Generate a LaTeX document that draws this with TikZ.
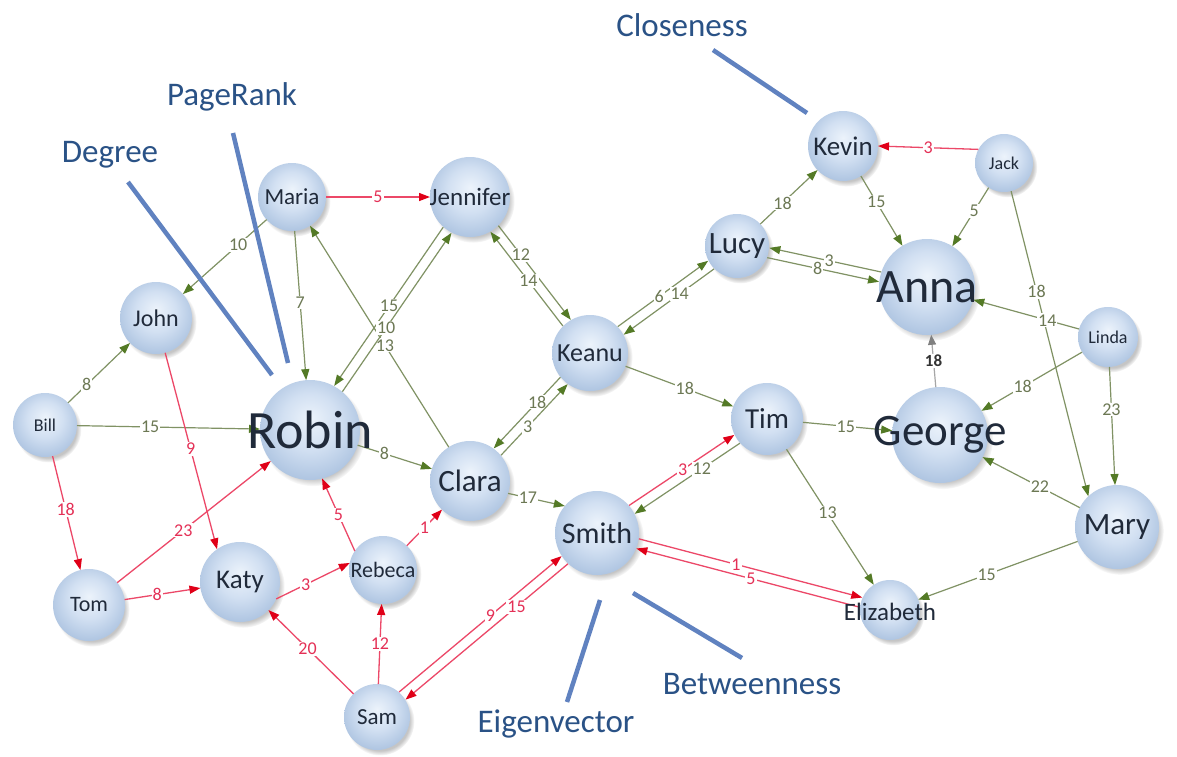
\documentclass[tikz,border=0pt]{standalone}
\usepackage{fontspec}
\setmainfont{Carlito}
\usetikzlibrary{arrows.meta,calc,shadows}
\definecolor{bubIn}{RGB}{236,243,251}
\definecolor{bubMid}{RGB}{210,224,242}
\definecolor{bubOut}{RGB}{176,198,226}
\definecolor{nameC}{RGB}{32,42,58}
\definecolor{gLine}{RGB}{128,146,100}
\definecolor{gArrow}{RGB}{84,122,38}
\definecolor{gLab}{RGB}{108,120,84}
\definecolor{rLine}{RGB}{236,72,104}
\definecolor{rArrow}{RGB}{224,0,24}
\definecolor{rLab}{RGB}{228,48,86}
\definecolor{annLine}{RGB}{96,130,192}
\definecolor{annText}{RGB}{42,82,134}
\pgfdeclareradialshading{bubble}{\pgfpoint{0bp}{6bp}}{color(0bp)=(bubIn); color(14bp)=(bubMid); color(27bp)=(bubOut); color(50bp)=(bubOut)}
\newcommand{\fsz}[1]{\fontsize{#1}{#1}\selectfont}
\newcommand{\bubble}[3]{\node[bub,minimum size=#3pt] (#1) at (#2) {};}
\newcommand{\pedge}[7]{\draw[#1] ($(#2)!5pt!#4:(#3)$) -- node[#6]{#7} ($(#3)!5pt!#5:(#2)$);}
\tikzset{
  bub/.style={circle,inner sep=0pt,outer sep=0pt,shade,shading=bubble,
    circular drop shadow={shadow xshift=3pt,shadow yshift=-4pt,shadow scale=1.04,opacity=.45}},
  nm/.style={text=nameC,inner sep=0pt},
  gE/.style={draw=gLine,line width=1.2pt,-{Triangle[length=11pt,width=8pt,color=gArrow]}},
  rE/.style={draw=rLine,line width=1.3pt,-{Triangle[length=11pt,width=8pt,color=rArrow]}},
  grE/.style={draw=gray!70,line width=1.2pt,-{Triangle[length=10pt,width=8pt,color=gray]}},
  glab/.style={fill=white,inner sep=1pt,text=gLab,font=\fsz{18}},
  rlab/.style={fill=white,inner sep=1pt,text=rLab,font=\fsz{18}},
  dlab/.style={fill=white,inner sep=1pt,text=black!80,font=\bfseries\fsz{17}},
  ann/.style={draw=annLine,line width=4.5pt},
  anntext/.style={text=annText,font=\fsz{33},inner sep=0pt}
}
\begin{document}
\begin{tikzpicture}[x=1pt,y=-1pt]
\fill[white] (0,0) rectangle (1177,756);
\useasboundingbox (0,0) rectangle (1177,756);
% bubbles
\bubble{Bill}{45,425}{64}
\bubble{John}{156,318}{72}
\bubble{Maria}{292,197}{68}
\bubble{Jennifer}{470,197}{80}
\bubble{Robin}{310,430}{100}
\bubble{Tom}{89,605}{72}
\bubble{Katy}{240,582}{80}
\bubble{Rebeca}{383,570}{68}
\bubble{Clara}{470,481}{80}
\bubble{Sam}{377,717}{66}
\bubble{Keanu}{590,353}{76}
\bubble{Smith}{597,533}{84}
\bubble{Lucy}{737,246}{64}
\bubble{Kevin}{843,146}{70}
\bubble{Jack}{1004,163}{58}
\bubble{Anna}{927,287}{96}
\bubble{Linda}{1108,337}{60}
\bubble{Tim}{767,419}{72}
\bubble{George}{940,435}{96}
\bubble{Mary}{1117,527}{84}
\bubble{Elizabeth}{890,610}{60}
% single edges
\draw[rE] (Maria) -- node[rlab,pos=.5]{5} (Jennifer);
\draw[gE] (Maria) -- node[glab,pos=.34]{10} (John);
\draw[gE] (Maria) -- node[glab,pos=.48]{7} (Robin);
\draw[gE] (Bill) -- node[glab,pos=.3]{8} (John);
\draw[gE] (Bill) -- node[glab,pos=.4]{15} (Robin);
\draw[rE] (Bill) -- node[rlab,pos=.47]{18} (Tom);
\draw[rE] (John) -- node[rlab,pos=.49]{9} (Katy.125);
\draw[rE] (Tom) -- node[rlab,pos=.43]{23} (Robin);
\draw[rE] (Tom) -- node[rlab,pos=.43]{8} (Katy);
\draw[rE] (Katy.-25) -- node[rlab,pos=.4]{3} (Rebeca.168);
\draw[rE] (Sam) -- node[rlab,pos=.54]{20} (Katy);
\draw[rE] (Sam) -- node[rlab,pos=.5]{12} (Rebeca);
\draw[rE] (Rebeca.146) -- node[rlab,pos=.5]{5} (Robin.-76);
\draw[rE] (Rebeca) -- node[rlab,pos=.5]{1} (Clara);
\draw[gE] (Robin) -- node[glab,pos=.36]{8} (Clara);
\draw[gE] (Clara) -- node[glab,pos=.46]{13} (Maria);
\draw[gE] (Keanu) -- node[glab,pos=.55]{18} (Tim);
\draw[gE] (Lucy) -- node[glab,pos=.39]{18} (Kevin);
\draw[gE] (Kevin) -- node[glab,pos=.37]{15} (Anna);
\draw[rE] (Jack.152) -- node[rlab,pos=.5]{3} (Kevin.east);
\draw[gE] (Jack) -- node[glab,pos=.4]{5} (Anna);
\draw[gE] (Jack) -- node[glab,pos=.33]{18} (Mary.133);
\draw[gE] (Linda) -- node[glab,pos=.3]{14} (Anna);
\draw[gE] (Linda) -- node[glab,pos=.59]{18} (George);
\draw[gE] (Linda) -- node[glab,pos=.36]{23} (Mary);
\draw[grE] (George) -- node[dlab,pos=.5]{18} (Anna);
\draw[gE] (Tim) -- node[glab,pos=.48]{15} (George);
\draw[gE] (Mary) -- node[glab,pos=.41]{22} (George);
\draw[gE] (Mary) -- node[glab,pos=.57]{15} (Elizabeth);
\draw[gE] (Tim) -- node[glab,pos=.47]{13} (Elizabeth);
\draw[gE] (Clara.-18) -- node[glab,pos=.35]{17} (Smith.140);
% parallel edge pairs
\pedge{gE,shorten <=40pt,shorten >=50pt}{Jennifer}{Robin}{-90}{90}{glab,pos=.48}{15}
\pedge{gE,shorten <=50pt,shorten >=40pt}{Robin}{Jennifer}{-90}{90}{glab,pos=.45}{10}
\pedge{gE,shorten <=40pt,shorten >=38pt}{Jennifer}{Keanu}{90}{-90}{glab,pos=.39}{12}
\pedge{gE,shorten <=38pt,shorten >=40pt}{Keanu}{Jennifer}{90}{-90}{glab,pos=.48}{14}
\pedge{gE,shorten <=38pt,shorten >=40pt}{Keanu}{Clara}{-90}{90}{glab,pos=.41}{18}
\pedge{gE,shorten <=40pt,shorten >=38pt}{Clara}{Keanu}{-90}{90}{glab,pos=.45}{3}
\pedge{gE,shorten <=38pt,shorten >=32pt}{Keanu}{Lucy}{90}{-90}{glab,pos=.49}{6}
\pedge{gE,shorten <=32pt,shorten >=38pt}{Lucy}{Keanu}{90}{-90}{glab,pos=.41}{14}
\pedge{gE,shorten <=48pt,shorten >=32pt}{Anna}{Lucy}{-90}{90}{glab,pos=.52}{3}
\pedge{gE,shorten <=32pt,shorten >=48pt}{Lucy}{Anna}{-90}{90}{glab,pos=.43}{8}
\pedge{rE,shorten <=42pt,shorten >=36pt}{Smith}{Tim}{90}{-90}{rlab,pos=.52}{3}
\pedge{gE,shorten <=36pt,shorten >=42pt}{Tim}{Smith}{90}{-90}{glab,pos=.4}{12}
\pedge{rE,shorten <=42pt,shorten >=30pt}{Smith}{Elizabeth}{90}{-90}{rlab,pos=.47}{1}
\pedge{rE,shorten <=30pt,shorten >=42pt}{Elizabeth}{Smith}{90}{-90}{rlab,pos=.47}{5}
\pedge{rE,shorten <=33pt,shorten >=42pt}{Sam}{Smith}{90}{-90}{rlab,pos=.53}{9}
\pedge{rE,shorten <=42pt,shorten >=33pt}{Smith}{Sam}{90}{-90}{rlab,pos=.38}{15}
% names
\node[nm,font=\fsz{18}] (tBill) at (Bill) {Bill};
\node[nm,font=\fsz{24}] (tJohn) at (John) {John};
\node[nm,font=\fsz{23}] (tMaria) at (Maria) {Maria};
\node[nm,font=\fsz{25}] (tJennifer) at (Jennifer) {Jennifer};
\node[nm,font=\fsz{54}] (tRobin) at (Robin) {Robin};
\node[nm,font=\fsz{22}] (tTom) at (Tom) {Tom};
\node[nm,font=\fsz{27}] (tKaty) at (Katy) {Katy};
\node[nm,font=\fsz{22}] (tRebeca) at (Rebeca) {Rebeca};
\node[nm,font=\fsz{31}] (tClara) at (Clara) {Clara};
\node[nm,font=\fsz{23}] (tSam) at (Sam) {Sam};
\node[nm,font=\fsz{26}] (tKeanu) at (Keanu) {Keanu};
\node[nm,font=\fsz{30}] (tSmith) at (Smith) {Smith};
\node[nm,font=\fsz{31}] (tLucy) at (Lucy) {Lucy};
\node[nm,font=\fsz{27}] (tKevin) at (Kevin) {Kevin};
\node[nm,font=\fsz{18}] (tJack) at (Jack) {Jack};
\node[nm,font=\fsz{48}] (tAnna) at (Anna) {Anna};
\node[nm,font=\fsz{18}] (tLinda) at (Linda) {Linda};
\node[nm,font=\fsz{29}] (tTim) at (Tim) {Tim};
\node[nm,font=\fsz{45}] (tGeorge) at (George) {George};
\node[nm,font=\fsz{31}] (tMary) at (Mary) {Mary};
\node[nm,font=\fsz{25}] (tElizabeth) at ([yshift=-2pt]Elizabeth) {Elizabeth};
% annotations
\node[anntext] (lClose) at (682,25) {Closeness};
\node[anntext] (lPage) at (232,97) {PageRank};
\node[anntext] (lDeg) at (110,155) {Degree};
\node[anntext] (lBetw) at (752,684) {Betweenness};
\node[anntext] (lEig) at (556,724) {Eigenvector};
\coordinate (c1) at (713,50);  \coordinate (c2) at (807,113);
\coordinate (p1) at (233,133); \coordinate (p2) at (288,363);
\coordinate (d1) at (128,182); \coordinate (d2) at (272,375);
\coordinate (e1) at (600,600); \coordinate (e2) at (567,702);
\coordinate (b1) at (633,593); \coordinate (b2) at (742,658);
\draw[ann] (c1) -- (c2);
\draw[ann] (p1) -- (p2);
\draw[ann] (d1) -- (d2);
\draw[ann] (e1) -- (e2);
\draw[ann] (b1) -- (b2);
\end{tikzpicture}
\end{document}
